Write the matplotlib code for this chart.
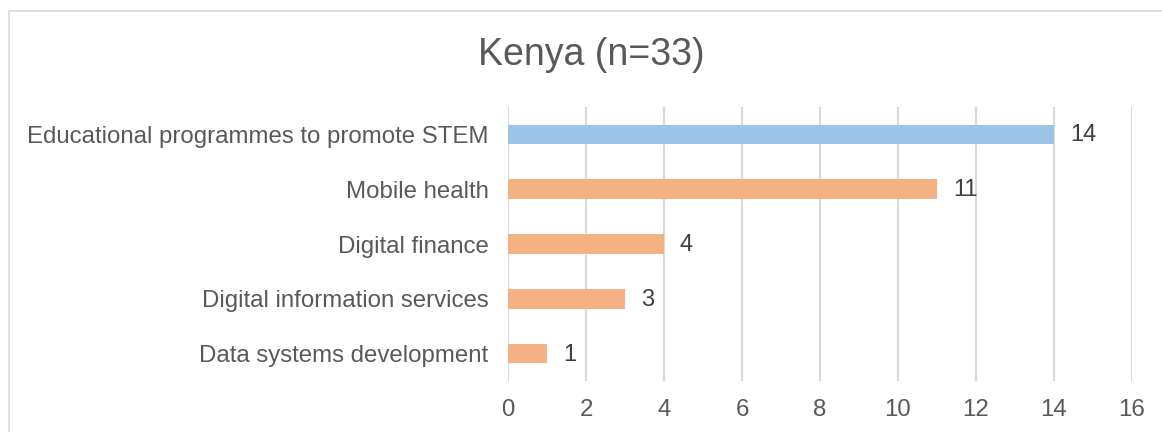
import matplotlib.pyplot as plt
from matplotlib.patches import Rectangle

plt.rcParams['font.family'] = ['Liberation Sans', 'DejaVu Sans']

categories = ['Educational programmes to promote STEM', 'Mobile health',
              'Digital finance', 'Digital information services',
              'Data systems development']
values = [14, 11, 4, 3, 1]
colors = ['#9DC3E6', '#F4B183', '#F4B183', '#F4B183', '#F4B183']
ticks = [0, 2, 4, 6, 8, 10, 12, 14, 16]
text_color = '#595959'

fig = plt.figure(figsize=(11.62, 4.32), dpi=100)
ax = fig.add_axes([508 / 1162, 1 - 381 / 432, (1132 - 508) / 1162, (381 - 107) / 432])

y = list(range(len(categories)))
ax.barh(y, values, height=0.355, color=colors, zorder=3)
for yi, v in zip(y, values):
    ax.text(v + 0.41, yi + 0.02, str(v), va='center', ha='left', fontsize=17, color='#404040')

ax.set_xlim(0, 16)
ax.set_ylim(len(categories) - 0.5, -0.5)
ax.set_xticks(ticks)
ax.set_yticks(y)
ax.set_yticklabels(categories)
ax.tick_params(axis='both', length=0, labelsize=17.3, colors=text_color)
ax.tick_params(axis='y', pad=14)
ax.tick_params(axis='x', pad=13)
ax.grid(axis='x', color='#D9D9D9', linewidth=1.5, zorder=0)
for s in ax.spines.values():
    s.set_visible(False)

fig.text(591 / 1162, 1 - 55 / 432, 'Kenya (n=33)', ha='center', va='center',
         fontsize=27, color=text_color)

fig.patches.append(Rectangle((9 / 1162, -0.1), 1.2, 1 - 11 / 432 + 0.1,
                             transform=fig.transFigure, fill=False,
                             edgecolor='#D9D9D9', linewidth=1.2))

fig.savefig('out.png', dpi=100)
